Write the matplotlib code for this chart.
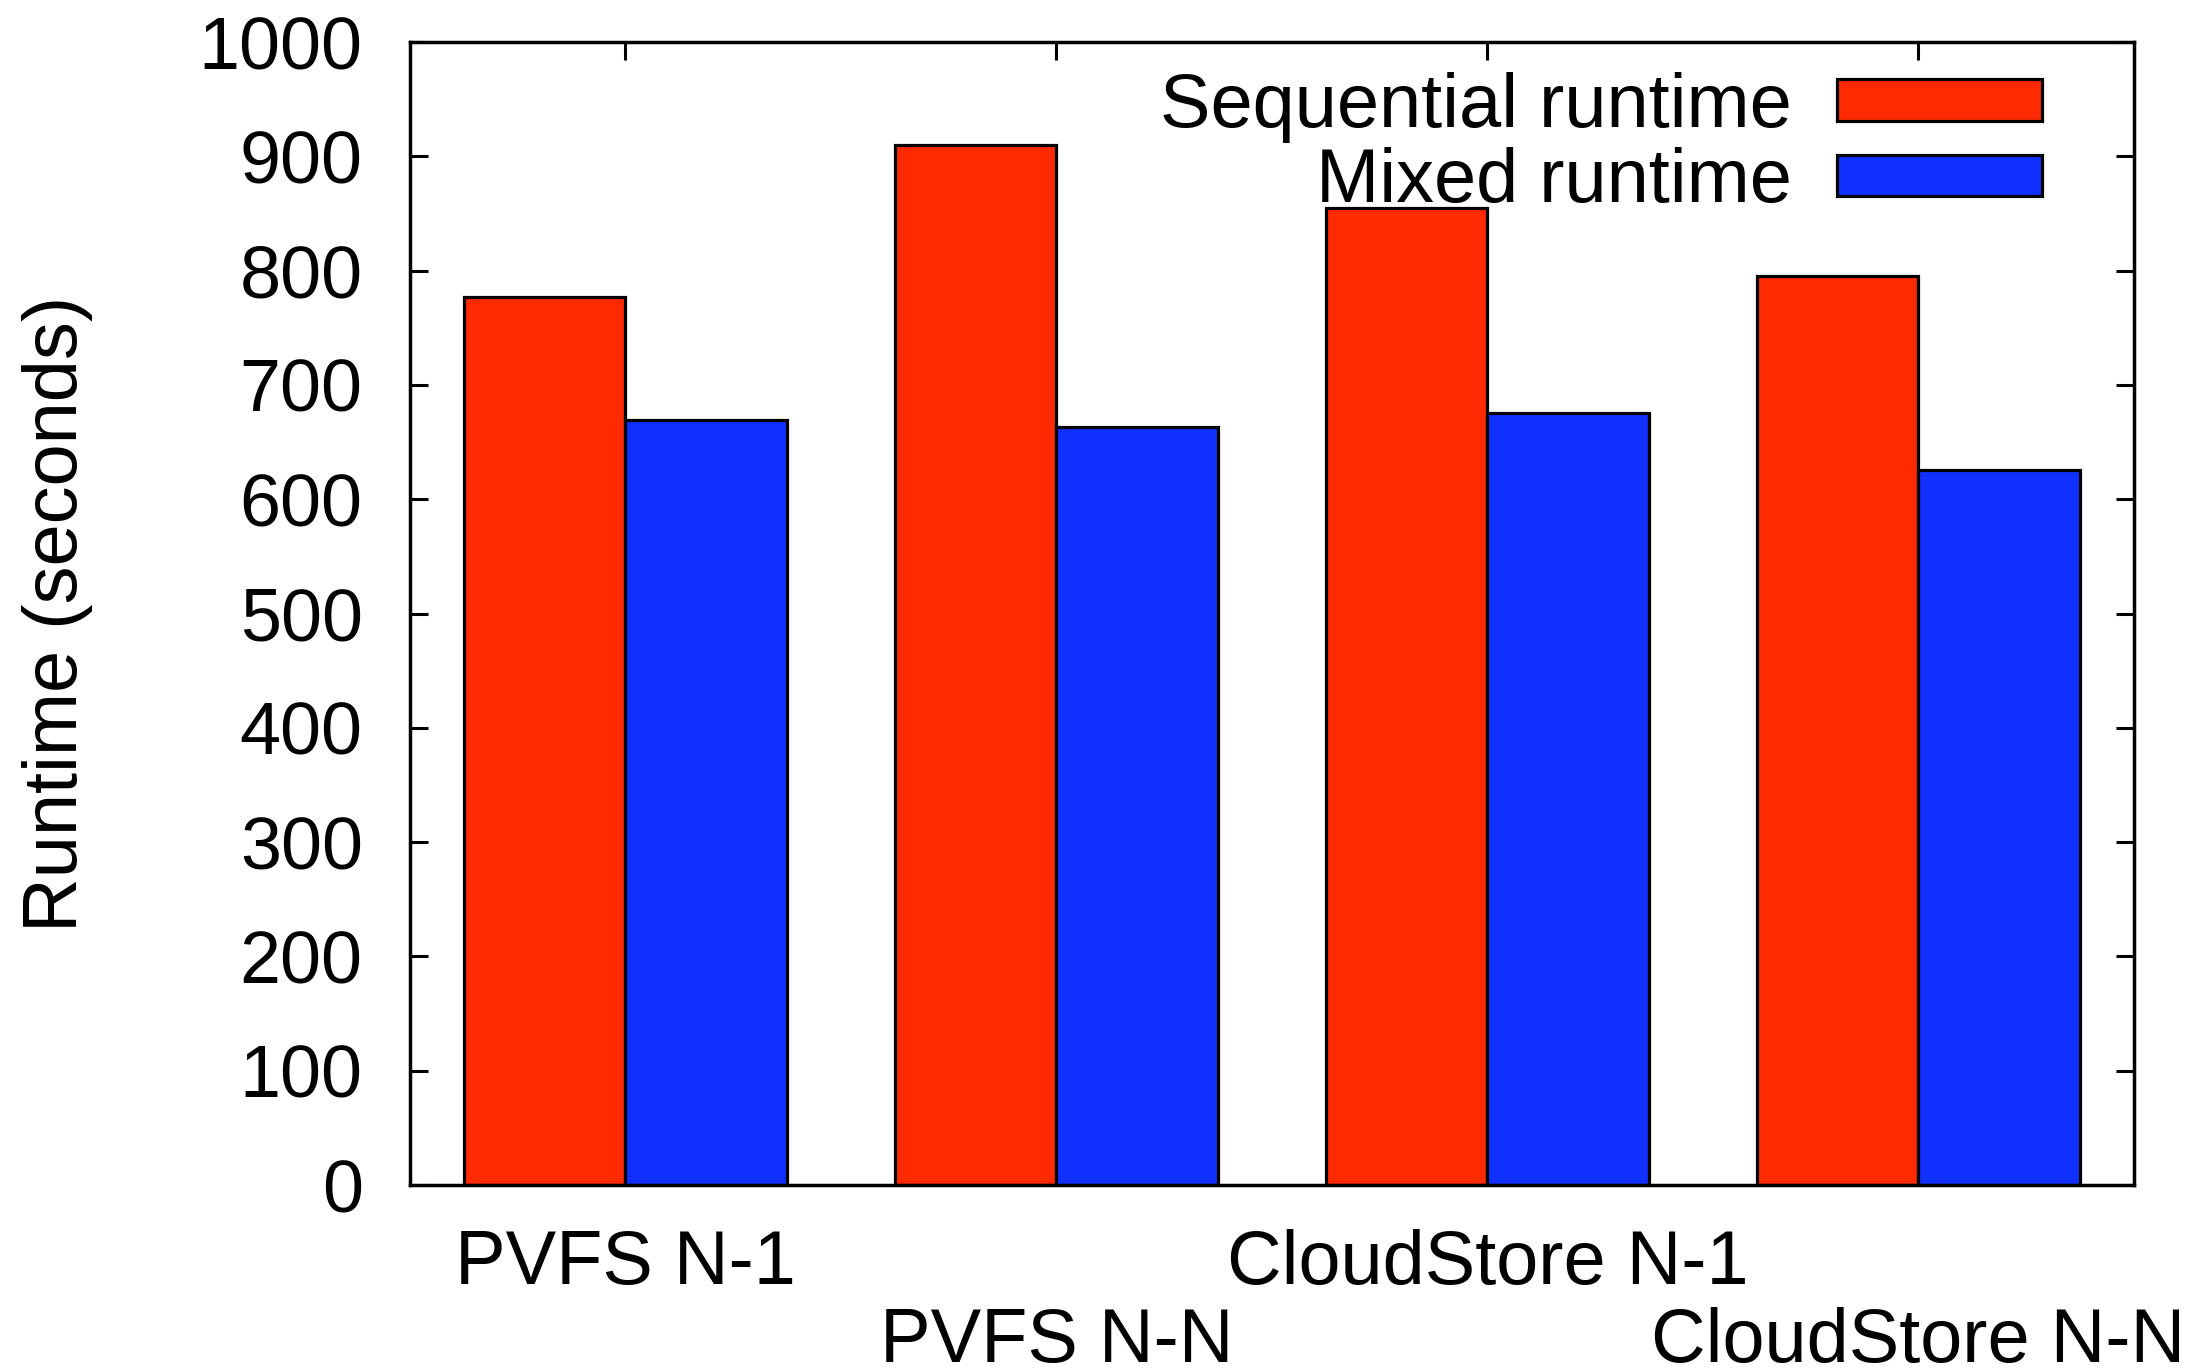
import matplotlib
matplotlib.use('Agg')
import matplotlib.pyplot as plt
import numpy as np

# runtime per configuration (seconds)
configs = ["PVFS N-1", "PVFS N-N", "CloudStore N-1", "CloudStore N-N"]
sequential = [777, 910, 855, 795]
mixed = [669, 663, 675, 626]
yticks = [0, 100, 200, 300, 400, 500, 600, 700, 800, 900, 1000]

red = '#ff2a00'
blue = '#1030ff'

plt.rcParams['font.family'] = ['Liberation Sans', 'DejaVu Sans']
plt.rcParams['font.size'] = 54.5

fig = plt.figure(figsize=(22.04, 13.69), dpi=100)
ax = fig.add_axes([0.186, 0.1344, 0.7822, 0.8349])

x = np.arange(len(configs))
w = 0.375
ax.bar(x - w/2, sequential, w, color=red, edgecolor='black', linewidth=2.3,
       label='Sequential runtime', zorder=2)
ax.bar(x + w/2, mixed, w, color=blue, edgecolor='black', linewidth=2.3,
       label='Mixed runtime', zorder=2)

ax.set_xlim(-0.5, len(configs) - 0.5)
ax.set_ylim(0, 1000)
ax.set_yticks(yticks)
ax.set_yticklabels([str(v) for v in yticks], fontsize=53)

# staggered category labels, like gnuplot
ax.set_xticks(x)
labels = [c if i % 2 == 0 else '\n' + c for i, c in enumerate(configs)]
ax.set_xticklabels(labels)
for t in ax.get_xticklabels():
    t.set_linespacing(1.12)

for s in ax.spines.values():
    s.set_linewidth(2.5)
    s.set_zorder(3)
ax.tick_params(axis='both', direction='in', length=13, width=2.2,
               top=True, right=True, pad=34)
ax.tick_params(axis='x', pad=32)

ax.set_ylabel('Runtime (seconds)')
ax.yaxis.set_label_coords(-0.184, 0.5)

ax.legend(loc='upper right', bbox_to_anchor=(0.9466, 0.974), frameon=False,
          markerfirst=False, handlelength=2.7, handleheight=0.47,
          handletextpad=0.6, labelspacing=0.06, borderpad=0, borderaxespad=0)

fig.savefig('out.png', dpi=100)
